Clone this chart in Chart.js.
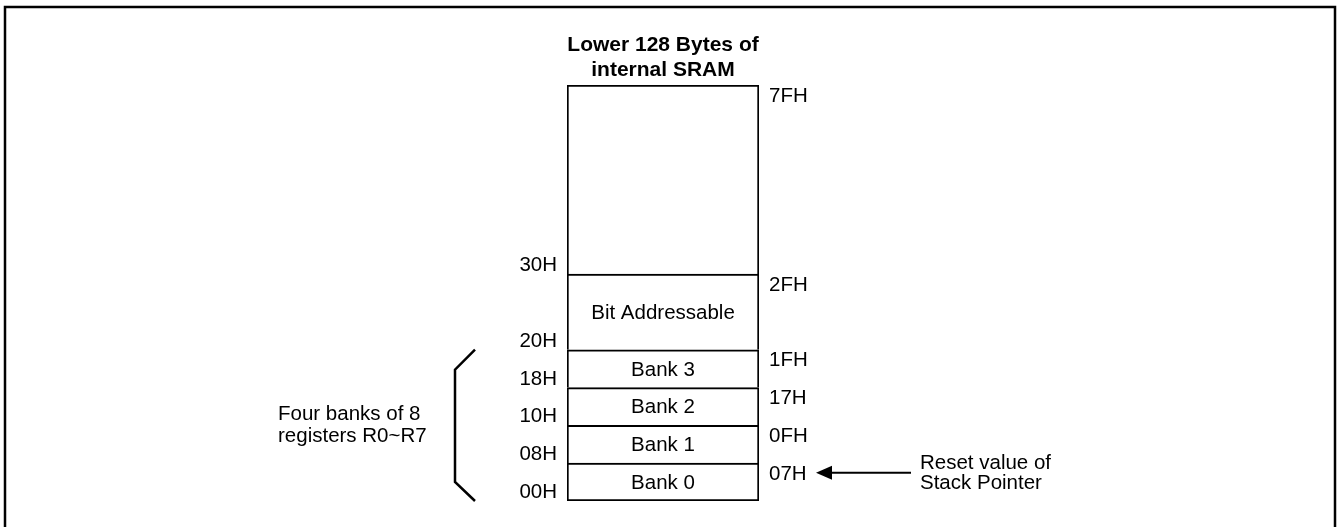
<!DOCTYPE html>
<html>
<head>
<meta charset="utf-8">
<script src="https://cdn.jsdelivr.net/npm/chart.js@4"></script>
<style>
  html, body { margin: 0; padding: 0; background: #fff; }
  #wrap { width: 1337px; height: 527px; position: relative; }
</style>
</head>
<body>
<div id="wrap"><canvas id="memChart"></canvas></div>
<script>
'use strict';

// memory map segments, bottom to top
const segmentLabels = ['Bank 0', 'Bank 1', 'Bank 2', 'Bank 3', 'Bit Addressable', ''];
// drawn height of each block (diagram units, not bytes)
const segmentSizes = [1, 1, 1, 1, 2, 5];
const startAddr = ['00H', '08H', '10H', '18H', '20H', '30H'];
const endAddr = ['07H', '0FH', '17H', '1FH', '2FH', '7FH'];

const titleLines = ['Lower 128 Bytes of', 'internal SRAM'];
const bankNote = ['Four banks of 8', 'registers R0~R7'];
const spNote = ['Reset value of', 'Stack Pointer'];
const spIndex = 0; // arrow points at end of Bank 0 (07H)
const bankCount = 4;

const FONT = "'Liberation Sans', Arial, Helvetica, sans-serif";

const diagramPlugin = {
    id: 'diagram',
    afterDraw(chart) {
        const ctx = chart.ctx;
        const area = chart.chartArea;
        const y = chart.scales.y;
        const cx = (area.left + area.right) / 2;

        ctx.save();
        ctx.strokeStyle = '#000';
        ctx.fillStyle = '#000';

        // outer frame
        ctx.lineWidth = 2.5;
        ctx.strokeRect(5, 7, 1330, 600);

        // title
        ctx.font = 'bold 21px ' + FONT;
        ctx.textAlign = 'center';
        ctx.textBaseline = 'alphabetic';
        ctx.fillText(titleLines[0], cx, area.top - 34);
        ctx.fillText(titleLines[1], cx, area.top - 9);

        ctx.font = '20.5px ' + FONT;
        let acc = 0;
        segmentSizes.forEach(function (size, i) {
            const bottom = y.getPixelForValue(acc);
            const top = y.getPixelForValue(acc + size);
            acc += size;

            // name inside the block
            if (segmentLabels[i]) {
                ctx.textAlign = 'center';
                ctx.fillText(segmentLabels[i], cx, (top + bottom) / 2 + 7);
            }
            // start address on the left, just above the lower line
            ctx.textAlign = 'right';
            ctx.fillText(startAddr[i], area.left - 10, bottom - 3);
            // end address on the right, just below the upper line
            ctx.textAlign = 'left';
            ctx.fillText(endAddr[i], area.right + 10, top + 16.5);
        });

        // bracket round the register banks
        let bankTop = 0;
        for (let i = 0; i < bankCount; i++) bankTop += segmentSizes[i];
        const bTop = y.getPixelForValue(bankTop);
        const bBot = y.getPixelForValue(0);
        const bx = area.left - 112;
        ctx.lineWidth = 2.5;
        ctx.beginPath();
        ctx.moveTo(bx + 20, bTop);
        ctx.lineTo(bx, bTop + 20);
        ctx.lineTo(bx, bBot - 19);
        ctx.lineTo(bx + 20, bBot);
        ctx.stroke();

        const bMid = (bTop + bBot) / 2;
        ctx.textAlign = 'left';
        ctx.fillText(bankNote[0], area.left - 289, bMid - 5);
        ctx.fillText(bankNote[1], area.left - 289, bMid + 17);

        // arrow to the stack pointer reset value
        let spTop = 0;
        for (let i = 0; i <= spIndex; i++) spTop += segmentSizes[i];
        const ay = y.getPixelForValue(spTop) + 9.5;
        const tipX = area.right + 57;
        ctx.lineWidth = 2;
        ctx.beginPath();
        ctx.moveTo(tipX + 12, ay);
        ctx.lineTo(area.right + 152, ay);
        ctx.stroke();
        ctx.beginPath();
        ctx.moveTo(tipX, ay);
        ctx.lineTo(tipX + 16, ay - 7);
        ctx.lineTo(tipX + 16, ay + 7);
        ctx.closePath();
        ctx.fill();

        ctx.fillText(spNote[0], area.right + 161, ay - 3.5);
        ctx.fillText(spNote[1], area.right + 161, ay + 16);

        ctx.restore();
    }
};

const datasets = segmentLabels.map(function (label, i) {
    return {
        label: label || 'RAM',
        data: [segmentSizes[i]],
        backgroundColor: '#ffffff',
        borderColor: '#000000',
        borderWidth: { top: 2, left: 2, right: 2, bottom: i === 0 ? 2 : 0 },
        borderSkipped: false,
        barPercentage: 1,
        categoryPercentage: 1
    };
});

const total = segmentSizes.reduce(function (a, b) { return a + b; }, 0);

new Chart(document.getElementById('memChart'), {
    type: 'bar',
    data: {
        labels: ['SRAM'],
        datasets: datasets
    },
    plugins: [diagramPlugin],
    options: {
        responsive: true,
        maintainAspectRatio: false,
        animation: false,
        devicePixelRatio: 1,
        layout: {
            padding: { left: 567, right: 578, top: 85, bottom: 26 }
        },
        scales: {
            x: { stacked: true, display: false },
            y: { stacked: true, display: false, min: 0, max: total }
        },
        plugins: {
            legend: { display: false },
            tooltip: { enabled: false }
        }
    }
});
</script>
</body>
</html>
